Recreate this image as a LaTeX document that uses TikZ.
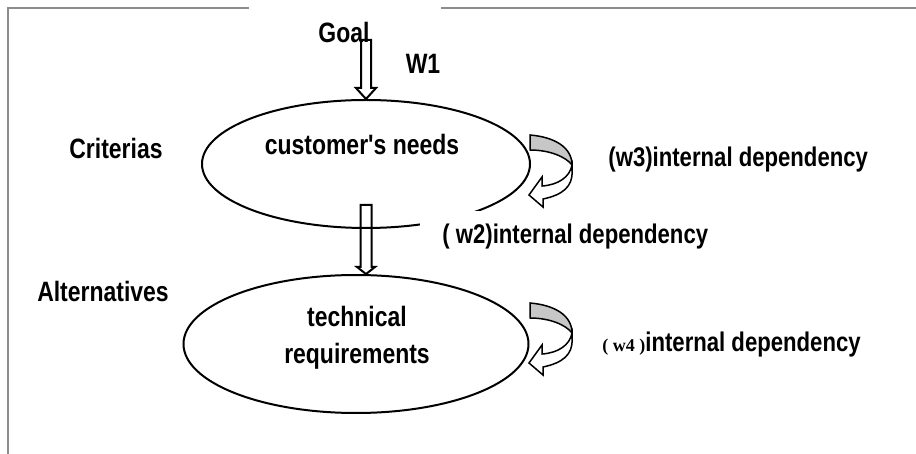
\documentclass[tikz,border=0pt]{standalone}
\usepackage{fontspec}
\newfontfamily\narrowsf{Liberation Sans}[FakeStretch=0.82]
\newfontfamily\timesbf{Liberation Serif}
\usepackage{tikz}
\usetikzlibrary{shapes.geometric,calc,positioning}

\begin{document}
\begin{tikzpicture}[x=0.5pt,y=-0.5pt]
\tikzset{lbl/.style={font=\narrowsf\bfseries\fontsize{14}{18.5}\selectfont, inner sep=0pt}}
\tikzset{dep/.style={font=\narrowsf\bfseries\fontsize{13.5}{16}\selectfont, inner sep=0pt, anchor=west}}
\tikzset{oval/.style={ellipse, draw, line width=1pt, inner sep=0pt}}
\tikzset{blk/.style={draw, line width=1pt, line join=miter}}
\tikzset{frm/.style={draw=black!45, line width=1pt}}
\tikzset{turnarrow/.pic={
  \draw[line width=0.75pt, fill=black!22] (0,0) .. controls (24,2) and (42,12) .. (42,30)
     .. controls (36,22) and (20,15) .. (0,15) -- cycle;
  \draw[line width=0.75pt, fill=white] (42,30) .. controls (40,42) and (28,50) .. (12,51)
     -- (12,42) -- (-1,60) -- (13,72) -- (13,64) .. controls (32,60) and (43,52) .. (42,36) -- cycle;
}}

\useasboundingbox (0,0) rectangle (916,454);

% frame
\draw[frm] (8,454) -- (8,8) -- (249,8);
\draw[frm] (441,8) -- (916,8);

% levels
\node[oval, minimum width=164pt, minimum height=64pt] (cn) at (366,164) {};
\node[oval, minimum width=172.5pt, minimum height=69pt] (tr) at (356,344) {};

\coordinate (w1top) at (366,40);
\coordinate (w1tip) at (w1top|-cn.north);
\coordinate (w2top) at (366,205);
\coordinate (w2tip) at (w2top|-tr.north);

% block arrows
\draw[blk] ($(w1top)+(-5,0)$) -- ($(w1tip)+(-5,-11)$) -- ($(w1tip)+(-10,-11)$) -- (w1tip)
  -- ($(w1tip)+(10,-11)$) -- ($(w1tip)+(5,-11)$) -- ($(w1top)+(5,0)$) -- cycle;
\draw[blk] ($(w2top)+(-5.5,0)$) -- ($(w2tip)+(-5.5,-7)$) -- ($(w2tip)+(-9,-7)$) -- (w2tip)
  -- ($(w2tip)+(9,-7)$) -- ($(w2tip)+(5.5,-7)$) -- ($(w2top)+(5.5,0)$) -- cycle;

% loops
\pic at (530,135) {turnarrow};
\pic at (530,303) {turnarrow};

% texts
\node[lbl] (goal) at (344,32) {Goal};
\node[lbl] (w1) at (423,64) {W1};
\node[lbl] (crit) at (116,148) {Criterias};
\node[lbl] (alt) at (103,291) {Alternatives};
\node[lbl] (cntxt) at (362,144) {customer's needs};
\node[lbl, align=center] (trtxt) at (357,338) {technical\\requirements};
\node[dep] (w3dep) at (608,160) {(w3)internal dependency};
\node[dep, fill=white, inner xsep=11pt, minimum height=26pt] (w2dep) at (420,237) {( w2)internal dependency};
\node[dep] (w4dep) at (602,345) {{\timesbf\fontsize{9}{11}\selectfont( w4 )}internal dependency};
\end{tikzpicture}
\end{document}
